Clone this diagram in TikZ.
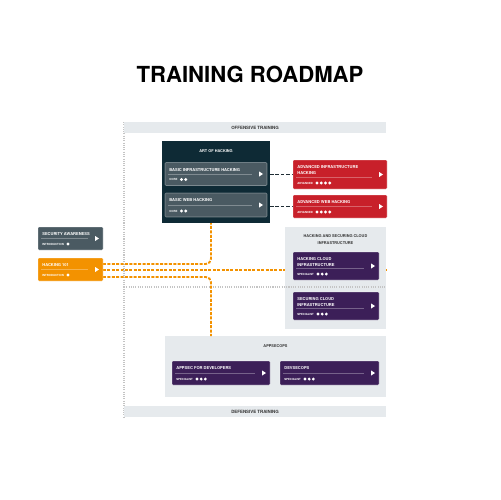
\documentclass[tikz,border=0pt]{standalone}
\usepackage{fontspec}
\setmainfont{TeX Gyre Heros}
\usetikzlibrary{calc}
\definecolor{darkbox}{HTML}{0E2A35}
\definecolor{cardgray}{HTML}{4A5A62}
\definecolor{cardred}{HTML}{C8202A}
\definecolor{cardpurple}{HTML}{3C1F58}
\definecolor{cardorange}{HTML}{F39200}
\definecolor{grp}{HTML}{E6EAED}
\definecolor{dotgray}{HTML}{C4C4C4}
\definecolor{dashdark}{HTML}{1F2D35}
\definecolor{grptext}{HTML}{333333}
\pgfdeclarelayer{back}
\pgfdeclarelayer{bg}
\pgfdeclarelayer{mid}
\pgfsetlayers{back,bg,mid,main}
\newcommand\rmcard[9]{%
  \node[rmcardbox, fill=#6, minimum width=#4*0.02cm, minimum height=#5*0.02cm, anchor=north west] (#1) at (#2,#3) {};
  \node[rmtitle, anchor=north west] (#1-t) at ($(#1.north west)+(4,5.5)$) {#7};
  \draw[rmrule] ($(#1.north west)+(3,#5-11.5)$) -- ($(#1.north west)+(#4-15,#5-11.5)$);
  \node[rmlevel, anchor=west] (#1-l) at ($(#1.north west)+(4,#5-6)$) {#8};
  \foreach \k in {1,...,#9} \fill[white] ($(#1-l.east)+(\k*4.2-0.5,0)$) circle[radius=1.6];
  \fill[white] ($(#1.north west)+(#4-7.8,#5/2-2.5)$) -- ++(3.8,2.5) -- ++(-3.8,2.5) -- cycle;
}
\begin{document}
\begin{tikzpicture}[x=0.02cm,y=-0.02cm,
  rmcardbox/.style={draw=white, draw opacity=0.35, line width=0.3pt, rounded corners=0.6pt, inner sep=0pt, outer sep=0pt},
  rmtitle/.style={inner sep=0pt, text=white, align=left, font=\fontsize{2.3}{3.1}\selectfont\bfseries},
  rmlevel/.style={inner sep=0pt, text=white, font=\fontsize{1.6}{2}\selectfont\bfseries},
  rmrule/.style={draw=white, draw opacity=0.3, line width=0.25pt},
  grpbox/.style={fill=grp, inner sep=0pt, outer sep=0pt, anchor=north west},
  grptitle/.style={inner sep=0pt, text=grptext, align=center, font=\fontsize{2.2}{3.9}\selectfont\bfseries},
  bartitle/.style={fill=grp, inner sep=0pt, outer sep=0pt, anchor=north west, text=grptext, font=\fontsize{2.5}{3}\selectfont\bfseries},
  rmdots/.style={draw=dotgray, line width=0.6pt, dash pattern=on 0.6pt off 0.7pt},
  oline/.style={draw=cardorange, line width=1.1pt, dash pattern=on 1.7pt off 0.8pt},
  dline/.style={draw=dashdark, line width=1.1pt, dash pattern=on 2pt off 1.1pt}]
\useasboundingbox (0,0) rectangle (500,500);
\node[inner sep=0pt, text=black, font=\fontsize{12.6}{14}\selectfont\bfseries] (title) at (250,74) {TRAINING ROADMAP};

\coordinate (vtop) at (124,122);
\coordinate (vbot) at (124,417);
\coordinate (hl) at (124,287);
\coordinate (hr) at (386,287);
\coordinate (jx) at (211,0);
\coordinate (y1) at (0,264);
\coordinate (y2) at (0,270);
\coordinate (y3) at (0,277);
\coordinate (o2) at (388,270);

% cards and boxes
\rmcard{sa}{38}{227}{65}{23}{cardgray}{SECURITY AWARENESS}{INTRODUCTION}{1}
\rmcard{h101}{38}{258}{65}{23}{cardorange}{HACKING 101}{INTRODUCTION}{1}
\node[fill=darkbox, inner sep=0pt, outer sep=0pt, minimum width=108*0.02cm, minimum height=82*0.02cm, anchor=north west] (art) at (162,141) {};
\node[grptitle, text=white] (art-t) at ($(art.north)+(0,10)$) {ART OF HACKING};
\rmcard{b1}{165}{162.5}{102}{23}{cardgray}{BASIC INFRASTRUCTURE HACKING}{CORE}{2}
\rmcard{b2}{165}{193}{102}{24}{cardgray}{BASIC WEB HACKING}{CORE}{2}
\rmcard{r1}{293}{160}{94}{29}{cardred}{ADVANCED INFRASTRUCTURE\\HACKING}{ADVANCED}{4}
\rmcard{r2}{293}{195}{94}{23}{cardred}{ADVANCED WEB HACKING}{ADVANCED}{4}
\rmcard{c1}{293}{252}{86}{28}{cardpurple}{HACKING CLOUD\\INFRASTRUCTURE}{SPECIALIST}{3}
\rmcard{c2}{293}{292}{86}{28}{cardpurple}{SECURING CLOUD\\INFRASTRUCTURE}{SPECIALIST}{3}
\rmcard{a1}{172}{361}{98}{24}{cardpurple}{APPSEC FOR DEVELOPERS}{SPECIALIST}{3}
\rmcard{a2}{280}{361}{99}{24}{cardpurple}{DEVSECOPS}{SPECIALIST}{3}

\begin{pgfonlayer}{back}
\fill[white] (0,0) rectangle (500,500);
\draw[oline] (h101.east |- y2) -- (o2);
\end{pgfonlayer}

\begin{pgfonlayer}{bg}
\draw[rmdots] (vtop) -- (vbot);
\node[bartitle, minimum width=262*0.02cm, minimum height=11*0.02cm] (off) at (124,122) {OFFENSIVE TRAINING};
\node[bartitle, minimum width=262*0.02cm, minimum height=11*0.02cm] (def) at (124,406) {DEFENSIVE TRAINING};
\node[grpbox, minimum width=101*0.02cm, minimum height=102*0.02cm] (cloud) at (285,227) {};
\node[grptitle, anchor=north] (cloud-t) at ($(cloud.north)+(0,7.6)$) {HACKING AND SECURING CLOUD\\INFRASTRUCTURE};
\node[grpbox, minimum width=221*0.02cm, minimum height=61*0.02cm] (appsec) at (165,336) {};
\node[grptitle] (appsec-t) at ($(appsec.north)+(0,10)$) {APPSECOPS};
\draw[rmdots] (hl) -- (hr);
\end{pgfonlayer}

\begin{pgfonlayer}{mid}
\draw[oline, rounded corners=3] (h101.east |- y1) -| (art.south -| jx);
\draw[oline, rounded corners=3] (h101.east |- y3) -| (appsec.north -| jx);
\draw[dline] (art.east |- r1.west) -- (r1.west);
\draw[dline] (art.east |- r2.west) -- (r2.west);
\end{pgfonlayer}
\end{tikzpicture}
\end{document}
